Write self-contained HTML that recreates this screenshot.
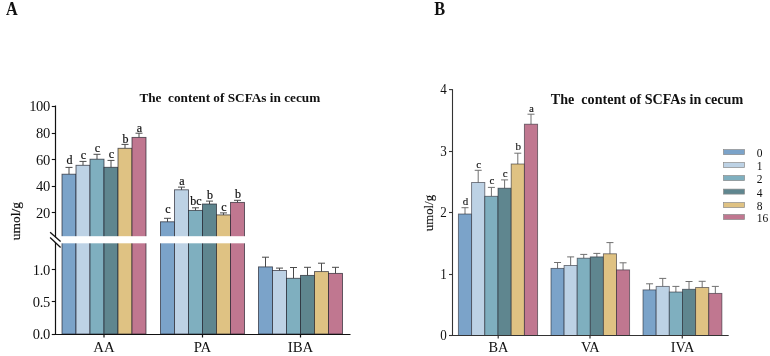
<!DOCTYPE html>
<html><head><meta charset="utf-8"><style>
html,body{margin:0;padding:0;background:#fff;width:770px;height:356px;overflow:hidden}
svg{display:block;filter:blur(0.35px)}
</style></head><body>
<svg width="770" height="356" viewBox="0 0 770 356">
<g font-family='"Liberation Serif", serif' fill="#111">
<text transform="translate(6.1,14.6) scale(0.89,1)" font-size="18.2" font-weight="bold">A</text>
<text x="139.4" y="102.4" font-size="13.25" font-weight="bold" xml:space="preserve">The  content of SCFAs in cecum</text>
<line x1="69.00" y1="167.40" x2="69.00" y2="174.20" stroke="#4a4a4a" stroke-width="1.0"/>
<line x1="65.50" y1="167.40" x2="72.50" y2="167.40" stroke="#4a4a4a" stroke-width="1.0"/>
<rect x="62.00" y="174.20" width="14.00" height="159.80" fill="#7BA3C9" stroke="rgba(30,30,40,0.72)" stroke-width="0.9"/>
<text x="69.50" y="163.90" font-size="12" font-weight="normal" stroke="#111" stroke-width="0.2" text-anchor="middle">d</text>
<line x1="83.00" y1="161.40" x2="83.00" y2="165.30" stroke="#4a4a4a" stroke-width="1.0"/>
<line x1="79.50" y1="161.40" x2="86.50" y2="161.40" stroke="#4a4a4a" stroke-width="1.0"/>
<rect x="76.00" y="165.30" width="14.00" height="168.70" fill="#BDD2E5" stroke="rgba(30,30,40,0.72)" stroke-width="0.9"/>
<text x="83.50" y="158.70" font-size="12" font-weight="normal" stroke="#111" stroke-width="0.2" text-anchor="middle">c</text>
<line x1="97.00" y1="154.30" x2="97.00" y2="159.20" stroke="#4a4a4a" stroke-width="1.0"/>
<line x1="93.50" y1="154.30" x2="100.50" y2="154.30" stroke="#4a4a4a" stroke-width="1.0"/>
<rect x="90.00" y="159.20" width="14.00" height="174.80" fill="#7FAFBF" stroke="rgba(30,30,40,0.72)" stroke-width="0.9"/>
<text x="97.50" y="152.40" font-size="12" font-weight="normal" stroke="#111" stroke-width="0.2" text-anchor="middle">c</text>
<line x1="111.00" y1="160.40" x2="111.00" y2="167.30" stroke="#4a4a4a" stroke-width="1.0"/>
<line x1="107.50" y1="160.40" x2="114.50" y2="160.40" stroke="#4a4a4a" stroke-width="1.0"/>
<rect x="104.00" y="167.30" width="14.00" height="166.70" fill="#5F868F" stroke="rgba(30,30,40,0.72)" stroke-width="0.9"/>
<text x="111.50" y="158.30" font-size="12" font-weight="normal" stroke="#111" stroke-width="0.2" text-anchor="middle">c</text>
<line x1="125.00" y1="144.40" x2="125.00" y2="148.30" stroke="#4a4a4a" stroke-width="1.0"/>
<line x1="121.50" y1="144.40" x2="128.50" y2="144.40" stroke="#4a4a4a" stroke-width="1.0"/>
<rect x="118.00" y="148.30" width="14.00" height="185.70" fill="#DFC283" stroke="rgba(30,30,40,0.72)" stroke-width="0.9"/>
<text x="125.50" y="142.60" font-size="12" font-weight="normal" stroke="#111" stroke-width="0.2" text-anchor="middle">b</text>
<line x1="139.00" y1="133.20" x2="139.00" y2="137.40" stroke="#4a4a4a" stroke-width="1.0"/>
<line x1="135.50" y1="133.20" x2="142.50" y2="133.20" stroke="#4a4a4a" stroke-width="1.0"/>
<rect x="132.00" y="137.40" width="14.00" height="196.60" fill="#C07790" stroke="rgba(30,30,40,0.72)" stroke-width="0.9"/>
<text x="139.50" y="131.60" font-size="12" font-weight="normal" stroke="#111" stroke-width="0.2" text-anchor="middle">a</text>
<rect x="61.00" y="236.20" width="86.00" height="7.10" fill="#fff"/>
<line x1="167.50" y1="218.30" x2="167.50" y2="221.80" stroke="#4a4a4a" stroke-width="1.0"/>
<line x1="164.00" y1="218.30" x2="171.00" y2="218.30" stroke="#4a4a4a" stroke-width="1.0"/>
<rect x="160.50" y="221.80" width="14.00" height="112.20" fill="#7BA3C9" stroke="rgba(30,30,40,0.72)" stroke-width="0.9"/>
<text x="168.00" y="212.70" font-size="12" font-weight="normal" stroke="#111" stroke-width="0.2" text-anchor="middle">c</text>
<line x1="181.50" y1="187.10" x2="181.50" y2="189.80" stroke="#4a4a4a" stroke-width="1.0"/>
<line x1="178.00" y1="187.10" x2="185.00" y2="187.10" stroke="#4a4a4a" stroke-width="1.0"/>
<rect x="174.50" y="189.80" width="14.00" height="144.20" fill="#BDD2E5" stroke="rgba(30,30,40,0.72)" stroke-width="0.9"/>
<text x="182.00" y="185.20" font-size="12" font-weight="normal" stroke="#111" stroke-width="0.2" text-anchor="middle">a</text>
<line x1="195.50" y1="207.80" x2="195.50" y2="210.40" stroke="#4a4a4a" stroke-width="1.0"/>
<line x1="192.00" y1="207.80" x2="199.00" y2="207.80" stroke="#4a4a4a" stroke-width="1.0"/>
<rect x="188.50" y="210.40" width="14.00" height="123.60" fill="#7FAFBF" stroke="rgba(30,30,40,0.72)" stroke-width="0.9"/>
<text x="196.00" y="205.30" font-size="12" font-weight="normal" stroke="#111" stroke-width="0.2" text-anchor="middle">bc</text>
<line x1="209.50" y1="201.10" x2="209.50" y2="204.00" stroke="#4a4a4a" stroke-width="1.0"/>
<line x1="206.00" y1="201.10" x2="213.00" y2="201.10" stroke="#4a4a4a" stroke-width="1.0"/>
<rect x="202.50" y="204.00" width="14.00" height="130.00" fill="#5F868F" stroke="rgba(30,30,40,0.72)" stroke-width="0.9"/>
<text x="210.00" y="198.70" font-size="12" font-weight="normal" stroke="#111" stroke-width="0.2" text-anchor="middle">b</text>
<line x1="223.50" y1="212.90" x2="223.50" y2="214.90" stroke="#4a4a4a" stroke-width="1.0"/>
<line x1="220.00" y1="212.90" x2="227.00" y2="212.90" stroke="#4a4a4a" stroke-width="1.0"/>
<rect x="216.50" y="214.90" width="14.00" height="119.10" fill="#DFC283" stroke="rgba(30,30,40,0.72)" stroke-width="0.9"/>
<text x="224.00" y="210.90" font-size="12" font-weight="normal" stroke="#111" stroke-width="0.2" text-anchor="middle">c</text>
<line x1="237.50" y1="200.30" x2="237.50" y2="202.40" stroke="#4a4a4a" stroke-width="1.0"/>
<line x1="234.00" y1="200.30" x2="241.00" y2="200.30" stroke="#4a4a4a" stroke-width="1.0"/>
<rect x="230.50" y="202.40" width="14.00" height="131.60" fill="#C07790" stroke="rgba(30,30,40,0.72)" stroke-width="0.9"/>
<text x="238.00" y="197.90" font-size="12" font-weight="normal" stroke="#111" stroke-width="0.2" text-anchor="middle">b</text>
<rect x="159.50" y="236.20" width="86.00" height="7.10" fill="#fff"/>
<line x1="265.50" y1="257.20" x2="265.50" y2="266.90" stroke="#4a4a4a" stroke-width="1.0"/>
<line x1="262.00" y1="257.20" x2="269.00" y2="257.20" stroke="#4a4a4a" stroke-width="1.0"/>
<rect x="258.50" y="266.90" width="14.00" height="67.10" fill="#7BA3C9" stroke="rgba(30,30,40,0.72)" stroke-width="0.9"/>
<line x1="279.50" y1="268.10" x2="279.50" y2="270.50" stroke="#4a4a4a" stroke-width="1.0"/>
<line x1="276.00" y1="268.10" x2="283.00" y2="268.10" stroke="#4a4a4a" stroke-width="1.0"/>
<rect x="272.50" y="270.50" width="14.00" height="63.50" fill="#BDD2E5" stroke="rgba(30,30,40,0.72)" stroke-width="0.9"/>
<line x1="293.50" y1="267.50" x2="293.50" y2="278.30" stroke="#4a4a4a" stroke-width="1.0"/>
<line x1="290.00" y1="267.50" x2="297.00" y2="267.50" stroke="#4a4a4a" stroke-width="1.0"/>
<rect x="286.50" y="278.30" width="14.00" height="55.70" fill="#7FAFBF" stroke="rgba(30,30,40,0.72)" stroke-width="0.9"/>
<line x1="307.50" y1="267.30" x2="307.50" y2="275.40" stroke="#4a4a4a" stroke-width="1.0"/>
<line x1="304.00" y1="267.30" x2="311.00" y2="267.30" stroke="#4a4a4a" stroke-width="1.0"/>
<rect x="300.50" y="275.40" width="14.00" height="58.60" fill="#5F868F" stroke="rgba(30,30,40,0.72)" stroke-width="0.9"/>
<line x1="321.50" y1="263.20" x2="321.50" y2="271.60" stroke="#4a4a4a" stroke-width="1.0"/>
<line x1="318.00" y1="263.20" x2="325.00" y2="263.20" stroke="#4a4a4a" stroke-width="1.0"/>
<rect x="314.50" y="271.60" width="14.00" height="62.40" fill="#DFC283" stroke="rgba(30,30,40,0.72)" stroke-width="0.9"/>
<line x1="335.50" y1="267.30" x2="335.50" y2="273.40" stroke="#4a4a4a" stroke-width="1.0"/>
<line x1="332.00" y1="267.30" x2="339.00" y2="267.30" stroke="#4a4a4a" stroke-width="1.0"/>
<rect x="328.50" y="273.40" width="14.00" height="60.60" fill="#C07790" stroke="rgba(30,30,40,0.72)" stroke-width="0.9"/>
<line x1="55.5" y1="105.5" x2="55.5" y2="334.5" stroke="#111" stroke-width="1.2"/>
<line x1="55" y1="334.5" x2="350.5" y2="334.5" stroke="#111" stroke-width="1.2"/>
<line x1="51.8" y1="106.5" x2="55.5" y2="106.5" stroke="#111" stroke-width="1.1"/>
<text x="49.8" y="111.3" font-size="14.5" letter-spacing="-0.4" text-anchor="end">100</text>
<line x1="51.8" y1="133.5" x2="55.5" y2="133.5" stroke="#111" stroke-width="1.1"/>
<text x="49.8" y="138.2" font-size="14.5" letter-spacing="-0.4" text-anchor="end">80</text>
<line x1="51.8" y1="159.5" x2="55.5" y2="159.5" stroke="#111" stroke-width="1.1"/>
<text x="49.8" y="164.5" font-size="14.5" letter-spacing="-0.4" text-anchor="end">60</text>
<line x1="51.8" y1="186.5" x2="55.5" y2="186.5" stroke="#111" stroke-width="1.1"/>
<text x="49.8" y="191.0" font-size="14.5" letter-spacing="-0.4" text-anchor="end">40</text>
<line x1="51.8" y1="212.5" x2="55.5" y2="212.5" stroke="#111" stroke-width="1.1"/>
<text x="49.8" y="217.6" font-size="14.5" letter-spacing="-0.4" text-anchor="end">20</text>
<line x1="51.8" y1="269.5" x2="55.5" y2="269.5" stroke="#111" stroke-width="1.1"/>
<text x="49.8" y="274.7" font-size="14.5" letter-spacing="-0.4" text-anchor="end">1.0</text>
<line x1="51.8" y1="301.5" x2="55.5" y2="301.5" stroke="#111" stroke-width="1.1"/>
<text x="49.8" y="307.0" font-size="14.5" letter-spacing="-0.4" text-anchor="end">0.5</text>
<line x1="51.8" y1="334.5" x2="55.5" y2="334.5" stroke="#111" stroke-width="1.1"/>
<text x="49.8" y="339.0" font-size="14.5" letter-spacing="-0.4" text-anchor="end">0.0</text>
<line x1="104" y1="334" x2="104" y2="337.5" stroke="#111" stroke-width="1.2"/>
<text x="104" y="352" font-size="14.8" text-anchor="middle">AA</text>
<line x1="202.5" y1="334" x2="202.5" y2="337.5" stroke="#111" stroke-width="1.2"/>
<text x="202.5" y="352" font-size="14.8" text-anchor="middle">PA</text>
<line x1="300.5" y1="334" x2="300.5" y2="337.5" stroke="#111" stroke-width="1.2"/>
<text x="300.5" y="352" font-size="14.8" text-anchor="middle">IBA</text>
<polygon points="50,232.5 61,242.2 61,247.6 50,237.9" fill="#fff"/>
<line x1="50.1" y1="232.2" x2="60.6" y2="241.6" stroke="#111" stroke-width="1.3"/>
<line x1="50.1" y1="237.6" x2="60.6" y2="247.4" stroke="#111" stroke-width="1.3"/>
<text transform="translate(20.3,221.1) rotate(-90)" font-size="13.5" stroke="#111" stroke-width="0.2" text-anchor="middle">umol/g</text>
<text transform="translate(434.2,14.5) scale(0.9,1)" font-size="18.1" font-weight="bold">B</text>
<text x="550.8" y="104" font-size="14.1" font-weight="bold" xml:space="preserve">The  content of SCFAs in cecum</text>
<line x1="465.00" y1="207.70" x2="465.00" y2="214.00" stroke="#707070" stroke-width="1.0"/>
<line x1="461.50" y1="207.70" x2="468.50" y2="207.70" stroke="#707070" stroke-width="1.0"/>
<rect x="458.40" y="214.00" width="13.20" height="121.50" fill="#7BA3C9" stroke="rgba(30,30,40,0.6)" stroke-width="0.9"/>
<text x="465.50" y="204.80" font-size="11" font-weight="normal" stroke="#111" stroke-width="0.12" text-anchor="middle">d</text>
<line x1="478.20" y1="170.30" x2="478.20" y2="182.50" stroke="#707070" stroke-width="1.0"/>
<line x1="474.70" y1="170.30" x2="481.70" y2="170.30" stroke="#707070" stroke-width="1.0"/>
<rect x="471.60" y="182.50" width="13.20" height="153.00" fill="#BDD2E5" stroke="rgba(30,30,40,0.6)" stroke-width="0.9"/>
<text x="478.70" y="167.70" font-size="11" font-weight="normal" stroke="#111" stroke-width="0.12" text-anchor="middle">c</text>
<line x1="491.40" y1="187.40" x2="491.40" y2="196.30" stroke="#707070" stroke-width="1.0"/>
<line x1="487.90" y1="187.40" x2="494.90" y2="187.40" stroke="#707070" stroke-width="1.0"/>
<rect x="484.80" y="196.30" width="13.20" height="139.20" fill="#7FAFBF" stroke="rgba(30,30,40,0.6)" stroke-width="0.9"/>
<text x="491.90" y="184.10" font-size="11" font-weight="normal" stroke="#111" stroke-width="0.12" text-anchor="middle">c</text>
<line x1="504.60" y1="179.90" x2="504.60" y2="188.20" stroke="#707070" stroke-width="1.0"/>
<line x1="501.10" y1="179.90" x2="508.10" y2="179.90" stroke="#707070" stroke-width="1.0"/>
<rect x="498.00" y="188.20" width="13.20" height="147.30" fill="#5F868F" stroke="rgba(30,30,40,0.6)" stroke-width="0.9"/>
<text x="505.10" y="176.90" font-size="11" font-weight="normal" stroke="#111" stroke-width="0.12" text-anchor="middle">c</text>
<line x1="517.80" y1="153.20" x2="517.80" y2="164.00" stroke="#707070" stroke-width="1.0"/>
<line x1="514.30" y1="153.20" x2="521.30" y2="153.20" stroke="#707070" stroke-width="1.0"/>
<rect x="511.20" y="164.00" width="13.20" height="171.50" fill="#DFC283" stroke="rgba(30,30,40,0.6)" stroke-width="0.9"/>
<text x="518.30" y="150.20" font-size="11" font-weight="normal" stroke="#111" stroke-width="0.12" text-anchor="middle">b</text>
<line x1="531.00" y1="114.20" x2="531.00" y2="124.20" stroke="#707070" stroke-width="1.0"/>
<line x1="527.50" y1="114.20" x2="534.50" y2="114.20" stroke="#707070" stroke-width="1.0"/>
<rect x="524.40" y="124.20" width="13.20" height="211.30" fill="#C07790" stroke="rgba(30,30,40,0.6)" stroke-width="0.9"/>
<text x="531.50" y="112.10" font-size="11" font-weight="normal" stroke="#111" stroke-width="0.12" text-anchor="middle">a</text>
<line x1="557.55" y1="262.50" x2="557.55" y2="268.40" stroke="#707070" stroke-width="1.0"/>
<line x1="554.05" y1="262.50" x2="561.05" y2="262.50" stroke="#707070" stroke-width="1.0"/>
<rect x="551.00" y="268.40" width="13.10" height="67.10" fill="#7BA3C9" stroke="rgba(30,30,40,0.6)" stroke-width="0.9"/>
<line x1="570.65" y1="256.90" x2="570.65" y2="265.50" stroke="#707070" stroke-width="1.0"/>
<line x1="567.15" y1="256.90" x2="574.15" y2="256.90" stroke="#707070" stroke-width="1.0"/>
<rect x="564.10" y="265.50" width="13.10" height="70.00" fill="#BDD2E5" stroke="rgba(30,30,40,0.6)" stroke-width="0.9"/>
<line x1="583.75" y1="254.40" x2="583.75" y2="258.20" stroke="#707070" stroke-width="1.0"/>
<line x1="580.25" y1="254.40" x2="587.25" y2="254.40" stroke="#707070" stroke-width="1.0"/>
<rect x="577.20" y="258.20" width="13.10" height="77.30" fill="#7FAFBF" stroke="rgba(30,30,40,0.6)" stroke-width="0.9"/>
<line x1="596.85" y1="253.40" x2="596.85" y2="256.90" stroke="#707070" stroke-width="1.0"/>
<line x1="593.35" y1="253.40" x2="600.35" y2="253.40" stroke="#707070" stroke-width="1.0"/>
<rect x="590.30" y="256.90" width="13.10" height="78.60" fill="#5F868F" stroke="rgba(30,30,40,0.6)" stroke-width="0.9"/>
<line x1="609.95" y1="242.60" x2="609.95" y2="253.80" stroke="#707070" stroke-width="1.0"/>
<line x1="606.45" y1="242.60" x2="613.45" y2="242.60" stroke="#707070" stroke-width="1.0"/>
<rect x="603.40" y="253.80" width="13.10" height="81.70" fill="#DFC283" stroke="rgba(30,30,40,0.6)" stroke-width="0.9"/>
<line x1="623.05" y1="262.80" x2="623.05" y2="269.90" stroke="#707070" stroke-width="1.0"/>
<line x1="619.55" y1="262.80" x2="626.55" y2="262.80" stroke="#707070" stroke-width="1.0"/>
<rect x="616.50" y="269.90" width="13.10" height="65.60" fill="#C07790" stroke="rgba(30,30,40,0.6)" stroke-width="0.9"/>
<line x1="649.58" y1="283.80" x2="649.58" y2="289.90" stroke="#707070" stroke-width="1.0"/>
<line x1="646.08" y1="283.80" x2="653.08" y2="283.80" stroke="#707070" stroke-width="1.0"/>
<rect x="643.00" y="289.90" width="13.15" height="45.60" fill="#7BA3C9" stroke="rgba(30,30,40,0.6)" stroke-width="0.9"/>
<line x1="662.73" y1="278.40" x2="662.73" y2="286.40" stroke="#707070" stroke-width="1.0"/>
<line x1="659.23" y1="278.40" x2="666.23" y2="278.40" stroke="#707070" stroke-width="1.0"/>
<rect x="656.15" y="286.40" width="13.15" height="49.10" fill="#BDD2E5" stroke="rgba(30,30,40,0.6)" stroke-width="0.9"/>
<line x1="675.88" y1="286.40" x2="675.88" y2="292.00" stroke="#707070" stroke-width="1.0"/>
<line x1="672.38" y1="286.40" x2="679.38" y2="286.40" stroke="#707070" stroke-width="1.0"/>
<rect x="669.30" y="292.00" width="13.15" height="43.50" fill="#7FAFBF" stroke="rgba(30,30,40,0.6)" stroke-width="0.9"/>
<line x1="689.03" y1="281.50" x2="689.03" y2="289.30" stroke="#707070" stroke-width="1.0"/>
<line x1="685.53" y1="281.50" x2="692.53" y2="281.50" stroke="#707070" stroke-width="1.0"/>
<rect x="682.45" y="289.30" width="13.15" height="46.20" fill="#5F868F" stroke="rgba(30,30,40,0.6)" stroke-width="0.9"/>
<line x1="702.18" y1="281.30" x2="702.18" y2="287.50" stroke="#707070" stroke-width="1.0"/>
<line x1="698.68" y1="281.30" x2="705.68" y2="281.30" stroke="#707070" stroke-width="1.0"/>
<rect x="695.60" y="287.50" width="13.15" height="48.00" fill="#DFC283" stroke="rgba(30,30,40,0.6)" stroke-width="0.9"/>
<line x1="715.33" y1="286.40" x2="715.33" y2="293.40" stroke="#707070" stroke-width="1.0"/>
<line x1="711.83" y1="286.40" x2="718.83" y2="286.40" stroke="#707070" stroke-width="1.0"/>
<rect x="708.75" y="293.40" width="13.15" height="42.10" fill="#C07790" stroke="rgba(30,30,40,0.6)" stroke-width="0.9"/>
<line x1="452.5" y1="89.2" x2="452.5" y2="336.0" stroke="#333" stroke-width="1.1"/>
<line x1="452" y1="335.5" x2="728.7" y2="335.5" stroke="#333" stroke-width="1.1"/>
<line x1="449" y1="89.6" x2="452.5" y2="89.6" stroke="#333" stroke-width="1.1"/>
<text transform="translate(446.9,94.19999999999999) scale(0.87,1)" font-size="15" text-anchor="end">4</text>
<line x1="449" y1="151.5" x2="452.5" y2="151.5" stroke="#333" stroke-width="1.1"/>
<text transform="translate(446.9,156.1) scale(0.87,1)" font-size="15" text-anchor="end">3</text>
<line x1="449" y1="212.5" x2="452.5" y2="212.5" stroke="#333" stroke-width="1.1"/>
<text transform="translate(446.9,217.1) scale(0.87,1)" font-size="15" text-anchor="end">2</text>
<line x1="449" y1="274.5" x2="452.5" y2="274.5" stroke="#333" stroke-width="1.1"/>
<text transform="translate(446.9,279.1) scale(0.87,1)" font-size="15" text-anchor="end">1</text>
<line x1="449" y1="335.5" x2="452.5" y2="335.5" stroke="#333" stroke-width="1.1"/>
<text transform="translate(446.9,340.1) scale(0.87,1)" font-size="15" text-anchor="end">0</text>
<line x1="498.2" y1="335.5" x2="498.2" y2="338.5" stroke="#333" stroke-width="1.2"/>
<text x="498.5" y="352.4" font-size="14.3" text-anchor="middle">BA</text>
<line x1="590" y1="335.5" x2="590" y2="338.5" stroke="#333" stroke-width="1.2"/>
<text x="590.3" y="352.4" font-size="14.3" text-anchor="middle">VA</text>
<line x1="682.3" y1="335.5" x2="682.3" y2="338.5" stroke="#333" stroke-width="1.2"/>
<text x="682.5999999999999" y="352.4" font-size="14.3" text-anchor="middle">IVA</text>
<text transform="translate(432.8,213.1) rotate(-90)" font-size="12.8" stroke="#111" stroke-width="0.15" text-anchor="middle">umol/g</text>
<rect x="723.5" y="149.60" width="21" height="5" fill="#7BA3C9" stroke="#8a8a8a" stroke-width="0.7"/>
<text transform="translate(756.8,157.00) scale(0.9,1)" font-size="12.8">0</text>
<rect x="723.5" y="162.60" width="21" height="5" fill="#BDD2E5" stroke="#8a8a8a" stroke-width="0.7"/>
<text transform="translate(756.8,170.00) scale(0.9,1)" font-size="12.8">1</text>
<rect x="723.5" y="175.60" width="21" height="5" fill="#7FAFBF" stroke="#8a8a8a" stroke-width="0.7"/>
<text transform="translate(756.8,183.00) scale(0.9,1)" font-size="12.8">2</text>
<rect x="723.5" y="189.10" width="21" height="5" fill="#5F868F" stroke="#8a8a8a" stroke-width="0.7"/>
<text transform="translate(756.8,196.50) scale(0.9,1)" font-size="12.8">4</text>
<rect x="723.5" y="202.60" width="21" height="5" fill="#DFC283" stroke="#8a8a8a" stroke-width="0.7"/>
<text transform="translate(756.8,210.00) scale(0.9,1)" font-size="12.8">8</text>
<rect x="723.5" y="214.50" width="21" height="5" fill="#C07790" stroke="#8a8a8a" stroke-width="0.7"/>
<text transform="translate(756.8,221.90) scale(0.9,1)" font-size="12.8">16</text>
</g>
</svg></body></html>
